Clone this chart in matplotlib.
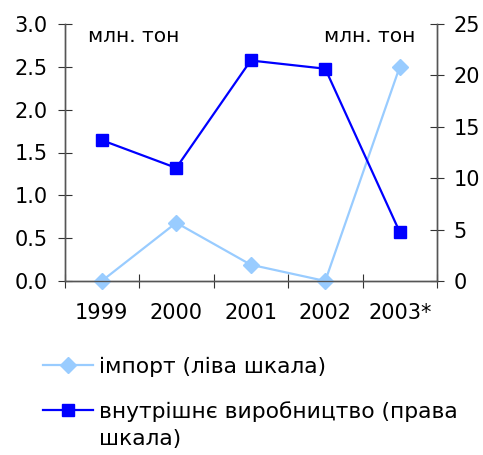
import matplotlib
matplotlib.use("Agg")
import matplotlib.pyplot as plt

years = ["1999", "2000", "2001", "2002", "2003*"]
imports = [0.0, 0.68, 0.19, 0.0, 2.5]
production = [13.7, 11.0, 21.45, 20.65, 4.76]
left_ticks = [0.0, 0.5, 1.0, 1.5, 2.0, 2.5, 3.0]
right_ticks = [0, 5, 10, 15, 20, 25]
label_import = 'імпорт (ліва шкала)'
label_prod_1 = 'внутрішнє виробництво (права'
label_prod_2 = 'шкала)'

plt.rcParams['font.family'] = ['DejaVu Sans']
W, H = 483, 455
fig = plt.figure(figsize=(W/100, H/100), dpi=100)
ax = fig.add_axes([64.5/W, 1-281/H, (437-64.5)/W, (281-24)/H])
ax2 = ax.twinx()

x = list(range(len(years)))
l1, = ax.plot(x, imports, color='#99CCFF', marker='D', markersize=8, lw=1.6,
              label=label_import, clip_on=False, zorder=3)
l2, = ax2.plot(x, production, color='#0000FF', marker='s', markersize=8, lw=1.6,
               label=label_prod_1, clip_on=False)

ax.set_xlim(-0.5, len(years)-0.5)
ax.set_ylim(0, 3.0)
ax2.set_ylim(0, 25)
ax.set_yticks(left_ticks)
ax.set_yticklabels([f"{v:.1f}" for v in left_ticks])
ax2.set_yticks(right_ticks)
ax.set_xticks([i - 0.5 for i in range(len(years)+1)])
ax.set_xticklabels([])
ax.set_xticks(x, minor=True)
ax.set_xticklabels(years, minor=True)
fs = 15
ax.tick_params(axis='x', which='minor', length=0, pad=16, labelsize=fs)
ax.tick_params(axis='x', which='major', direction='inout', length=10, color='#333333')
ax.tick_params(axis='y', direction='inout', length=10, labelsize=fs, pad=7, color='#333333')
ax2.tick_params(axis='y', direction='inout', length=10, labelsize=fs, pad=7, color='#333333')

for a in (ax, ax2):
    a.spines['top'].set_visible(False)
    for s in ('left', 'right', 'bottom'):
        a.spines[s].set_color('#555555')
        a.spines[s].set_linewidth(1.0)

ax.text(88, H-36, 'млн. тон', transform=None, fontsize=14.5, va='center', ha='left')
ax.text(415, H-36, 'млн. тон', transform=None, fontsize=14.5, va='center', ha='right')

leg_fs = 15.7
leg = fig.legend(handles=[l1, l2], loc='upper left', bbox_to_anchor=(34/W, 1-348/H),
                 frameon=False, fontsize=leg_fs, handlelength=2.3, handletextpad=0.3,
                 labelspacing=1.1, borderaxespad=0)

fig.canvas.draw()
r = fig.canvas.get_renderer()
bb = leg.get_texts()[1].get_window_extent(r)
fig.text(bb.x0, bb.y0 - 27, label_prod_2, transform=None, fontsize=leg_fs,
         ha='left', va='bottom')

fig.savefig('out.png', dpi=100)
